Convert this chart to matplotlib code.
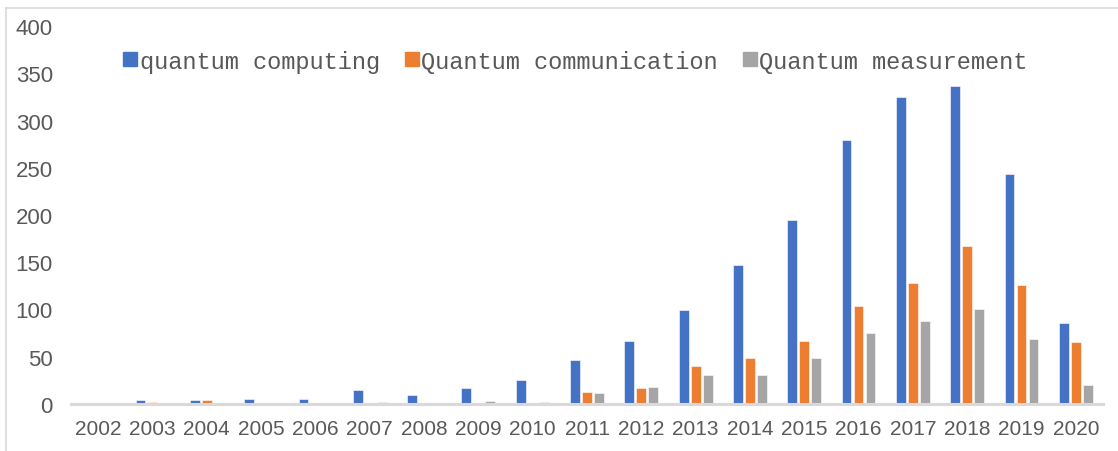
import matplotlib
matplotlib.use("Agg")
import matplotlib.pyplot as plt
import numpy as np
from matplotlib.lines import Line2D

years = ["2002", "2003", "2004", "2005", "2006", "2007", "2008", "2009", "2010", "2011",
         "2012", "2013", "2014", "2015", "2016", "2017", "2018", "2019", "2020"]
computing = [1, 4, 4, 5, 5, 15, 9, 17, 25, 47, 67, 100, 147, 195, 279, 325, 337, 243, 86]
communication = [0, 2, 4, 0, 0, 0, 0, 1, 1, 13, 17, 40, 49, 67, 104, 128, 167, 126, 66]
measurement = [0, 0, 1, 0, 0, 2, 0, 3, 2, 12, 18, 31, 31, 49, 75, 88, 101, 69, 20]
series_names = ["quantum computing", "Quantum communication", "Quantum measurement"]
colors = ["#4472C4", "#ED7D31", "#A5A5A5"]

fig = plt.figure(figsize=(11.18, 4.52), dpi=100)
ax = fig.add_axes([71/1118, 1-405/452, (1103-71)/1118, (405-27)/452])

x = np.arange(len(years))
pitch = 0.221
width = 0.18
for k, (vals, c) in enumerate(zip([computing, communication, measurement], colors)):
    ax.bar(x + (k-1)*pitch, vals, width=width, color=c, edgecolor="white", linewidth=0.4,
           label=series_names[k], zorder=2)

ax.set_xlim(-0.5, len(years)-0.5)
ax.set_ylim(0, 400)
ax.set_yticks(range(0, 401, 50))
ax.set_xticks(x)
ax.set_xticklabels(years)
for s in ["top", "right", "left"]:
    ax.spines[s].set_visible(False)
ax.spines["bottom"].set_color("#d9d9d9")
ax.spines["bottom"].set_linewidth(2.2)
ax.tick_params(axis="both", length=0, labelcolor="#595959", labelsize=15)
ax.tick_params(axis="y", pad=13, labelsize=16)
ax.tick_params(axis="x", pad=11)
for lab in ax.get_xticklabels() + ax.get_yticklabels():
    lab.set_fontfamily("Liberation Sans")

handles = [Line2D([0], [0], marker="s", linestyle="none", markersize=9.5,
                  markerfacecolor=c, markeredgecolor=c) for c in colors]
leg = fig.legend(handles, series_names, loc="center", bbox_to_anchor=(576/1118, 1-62/452),
                 ncol=3, frameon=False, handlelength=0.5, handletextpad=0.15,
                 columnspacing=1.1, prop={"family": "Liberation Mono", "size": 17})
for t in leg.get_texts():
    t.set_color("#595959")

# outer chart border (top and left visible)
fig.add_artist(Line2D([6/1118, 6/1118], [0, 1-9/452], transform=fig.transFigure,
                      color="#d9d9d9", linewidth=1.2))
fig.add_artist(Line2D([6/1118, 1], [1-9/452, 1-9/452], transform=fig.transFigure,
                      color="#d9d9d9", linewidth=1.2))

fig.savefig("out.png", dpi=100)
